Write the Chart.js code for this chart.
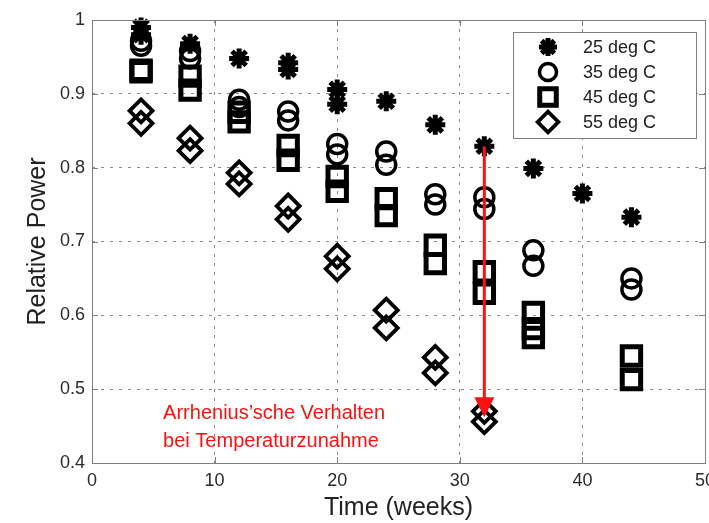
<!DOCTYPE html>
<html>
<head>
<meta charset="utf-8">
<script src="https://cdn.jsdelivr.net/npm/chart.js@4.4.1/dist/chart.umd.min.js"></script>
<style>
  html, body { margin: 0; padding: 0; background: #fff; overflow: hidden; }
  #wrap { position: absolute; left: 0; top: 0; width: 723px; height: 523px; }
</style>
</head>
<body>
<div id="wrap"><canvas id="chart"></canvas></div>
<script>
// ---- data ----
const xTicks = [0, 10, 20, 30, 40, 50];
const yTicks = [0.4, 0.5, 0.6, 0.7, 0.8, 0.9, 1];

const seriesNames = ['25 deg C', '35 deg C', '45 deg C', '55 deg C'];

const weeks25 = [4, 4, 8, 12, 16, 16, 20, 20, 24, 28, 32, 36, 40, 44];
const power25 = [0.99, 0.98, 0.968, 0.948, 0.942, 0.933, 0.906, 0.886, 0.89, 0.858, 0.829, 0.799, 0.765, 0.733];

const weeks35 = [4, 4, 8, 8, 12, 12, 16, 16, 20, 20, 24, 24, 28, 28, 32, 32, 36, 36, 44, 44];
const power35 = [0.972, 0.965, 0.958, 0.948, 0.892, 0.882, 0.876, 0.864, 0.832, 0.818, 0.822, 0.804, 0.764, 0.75, 0.76, 0.744, 0.688, 0.667, 0.65, 0.635];

const weeks45 = [4, 4, 8, 8, 12, 12, 16, 16, 20, 20, 24, 24, 28, 28, 32, 32, 36, 36, 36, 44, 44];
const power45 = [0.932, 0.93, 0.924, 0.905, 0.875, 0.862, 0.83, 0.81, 0.788, 0.768, 0.758, 0.735, 0.695, 0.67, 0.659, 0.63, 0.604, 0.582, 0.57, 0.545, 0.513];

const weeks55 = [4, 4, 8, 8, 12, 12, 16, 16, 20, 20, 24, 24, 28, 28, 32, 32];
const power55 = [0.877, 0.86, 0.84, 0.823, 0.793, 0.778, 0.748, 0.73, 0.68, 0.663, 0.607, 0.583, 0.543, 0.522, 0.47, 0.456];

// annotation (arrow from 25 deg point down to 55 deg point at week 32)
const arrowWeek = 32;
const arrowFrom = 0.829;
const arrowTo = 0.462;
const noteLines = ['Arrhenius\u2019sche Verhalten', 'bei Temperaturzunahme'];
const noteAt = { x: 5.8, y: 0.467 };

// ---- helpers ----
function toPoints(xs, ys) {
    return xs.map((x, i) => ({ x: x, y: ys[i] }));
}

const markerStyles = [
    { pointStyle: 'star', radius: 10, width: 5 },
    { pointStyle: 'circle', radius: 9.5, width: 3.5 },
    { pointStyle: 'rect', radius: 13, width: 5 },
    { pointStyle: 'rectRot', radius: 11.5, width: 3.8 }
];

const allData = [
    toPoints(weeks25, power25),
    toPoints(weeks35, power35),
    toPoints(weeks45, power45),
    toPoints(weeks55, power55)
];

const datasets = allData.map((pts, i) => ({
    label: seriesNames[i],
    data: pts,
    pointStyle: markerStyles[i].pointStyle,
    pointRadius: markerStyles[i].radius,
    pointBorderWidth: markerStyles[i].width,
    pointBorderColor: '#000',
    pointBackgroundColor: 'rgba(0,0,0,0)',
    showLine: false,
    clip: false
}));

// frame, inward ticks, legend and red note
const extrasPlugin = {
    id: 'extras',
    afterDraw(chart) {
        const ctx = chart.ctx;
        const a = chart.chartArea;
        const xs = chart.scales.x;
        const ys = chart.scales.y;

        ctx.save();
        // box around the axes
        ctx.strokeStyle = '#808080';
        ctx.lineWidth = 1;
        ctx.strokeRect(a.left + 0.5, a.top + 0.5, a.right - a.left, a.bottom - a.top);

        // inward tick marks
        ctx.beginPath();
        xTicks.forEach(v => {
            const px = Math.round(xs.getPixelForValue(v)) + 0.5;
            ctx.moveTo(px, a.bottom); ctx.lineTo(px, a.bottom - 6);
            ctx.moveTo(px, a.top); ctx.lineTo(px, a.top + 6);
        });
        yTicks.forEach(v => {
            const py = Math.round(ys.getPixelForValue(v)) + 0.5;
            ctx.moveTo(a.left, py); ctx.lineTo(a.left + 6, py);
            ctx.moveTo(a.right, py); ctx.lineTo(a.right - 6, py);
        });
        ctx.stroke();

        // red arrow
        const ax = xs.getPixelForValue(arrowWeek);
        const y0 = ys.getPixelForValue(arrowFrom);
        const y1 = ys.getPixelForValue(arrowTo);
        ctx.strokeStyle = '#ff1010';
        ctx.fillStyle = '#ff1010';
        ctx.lineWidth = 3;
        ctx.beginPath();
        ctx.moveTo(ax, y0);
        ctx.lineTo(ax, y1 - 16);
        ctx.stroke();
        ctx.beginPath();
        ctx.moveTo(ax - 10, y1 - 20);
        ctx.lineTo(ax + 10, y1 - 20);
        ctx.lineTo(ax, y1);
        ctx.closePath();
        ctx.fill();

        // red note
        ctx.font = '20px "Liberation Sans", Arial, sans-serif';
        ctx.textAlign = 'left';
        ctx.textBaseline = 'middle';
        const nx = xs.getPixelForValue(noteAt.x);
        const ny = ys.getPixelForValue(noteAt.y);
        noteLines.forEach((t, i) => ctx.fillText(t, nx, ny + i * 28));

        // legend box in the upper right
        const bw = 183, bh = 106;
        const bx = a.right - 9 - bw;
        const by = a.top + 12;
        ctx.fillStyle = '#fff';
        ctx.fillRect(bx, by, bw, bh);
        ctx.strokeStyle = '#808080';
        ctx.lineWidth = 1;
        ctx.strokeRect(bx + 0.5, by + 0.5, bw, bh);
        ctx.font = '18px "Liberation Sans", Arial, sans-serif';
        seriesNames.forEach((name, i) => {
            const cy = by + 15 + i * 25;
            const m = markerStyles[i];
            ctx.strokeStyle = '#000';
            ctx.fillStyle = '#fff';
            ctx.lineWidth = m.width;
            Chart.helpers.drawPoint(ctx, {
                pointStyle: m.pointStyle,
                radius: m.radius * 0.9,
                borderWidth: m.width,
                rotation: 0
            }, bx + 35, cy);
            ctx.fillStyle = '#222';
            ctx.fillText(name, bx + 70, cy + 1);
        });
        ctx.restore();
    }
};

const tickFont = { family: '"Liberation Sans", Arial, sans-serif', size: 18 };
const titleFont = { family: '"Liberation Sans", Arial, sans-serif', size: 25 };

new Chart(document.getElementById('chart'), {
    type: 'scatter',
    data: { datasets: datasets },
    options: {
        responsive: true,
        maintainAspectRatio: false,
        animation: false,
        layout: { padding: { top: 20, right: 0, bottom: 0, left: 0 } },
        plugins: {
            legend: { display: false },
            tooltip: { enabled: false }
        },
        scales: {
            x: {
                type: 'linear',
                min: 0,
                max: 50,
                afterBuildTicks: s => { s.ticks = xTicks.map(v => ({ value: v })); },
                afterFit: s => { s.height = 60; },
                ticks: { color: '#2b2b2b', font: tickFont, padding: 7, maxRotation: 0 },
                grid: {
                    color: '#8a8a8a',
                    lineWidth: 1,
                    drawTicks: false,
                    tickLength: 0
                },
                border: { display: false, dash: [3, 6] },
                title: {
                    display: true,
                    text: 'Time (weeks)',
                    color: '#222',
                    font: titleFont,
                    padding: { top: 0, bottom: 0 }
                }
            },
            y: {
                type: 'linear',
                min: 0.4,
                max: 1,
                afterBuildTicks: s => { s.ticks = yTicks.map(v => ({ value: v })); },
                afterFit: s => { s.width = 92; },
                ticks: {
                    color: '#2b2b2b',
                    font: tickFont,
                    padding: 7,
                    callback: v => String(+v.toFixed(1))
                },
                grid: {
                    color: '#8a8a8a',
                    lineWidth: 1,
                    drawTicks: false,
                    tickLength: 0
                },
                border: { display: false, dash: [3, 6] },
                title: {
                    display: true,
                    text: 'Relative Power',
                    color: '#222',
                    font: titleFont,
                    padding: { top: 23, bottom: 0 }
                }
            }
        }
    },
    plugins: [extrasPlugin]
});
</script>
</body>
</html>
